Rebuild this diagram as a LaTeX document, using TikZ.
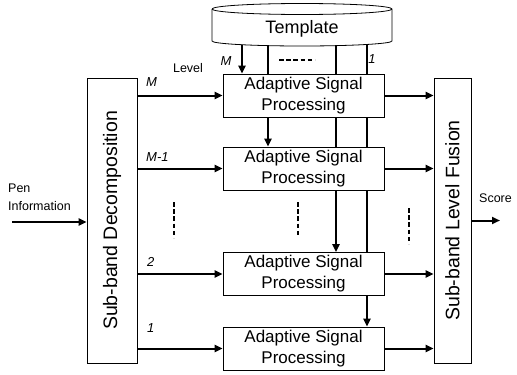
\documentclass[tikz,border=0pt]{standalone}
\usepackage{fontspec}
\setmainfont{Liberation Sans}
\usetikzlibrary{shapes.geometric,arrows.meta,backgrounds,positioning}
\tikzset{block/.style={draw, fill=white, line width=0.8pt, align=center, inner sep=2pt},
    aspbox/.style={block, minimum width=161pt, minimum height=43pt, font=\fontsize{17}{21}\selectfont},
    tallbox/.style={block, rotate=90, minimum width=285pt, font=\fontsize{19.5}{22}\selectfont},
    link/.style={line width=2pt, -{Triangle[length=8pt,width=7pt]}},
    dots/.style={line width=2.2pt, dash pattern=on 4.5pt off 2.7pt},
    lbl/.style={font=\fontsize{12.5}{18}\selectfont, inner sep=0pt, align=left},
    lvl/.style={font=\fontsize{13}{15}\selectfont\itshape, inner sep=0pt}}

\begin{document}
\begin{tikzpicture}[x=1pt, y=-1pt]
    \useasboundingbox (0,0) rectangle (517,375);
    % template store
    \draw[fill=white, line width=0.8pt] (212,9) -- (212,41)
        arc[start angle=180, end angle=360, x radius=90pt, y radius=5pt] -- (392,9)
        arc[start angle=0, end angle=180, x radius=90pt, y radius=5.5pt];
    \draw[line width=0.8pt] (212,9) arc[start angle=180, end angle=360, x radius=90pt, y radius=5.5pt];
    \node[font=\fontsize{18}{20}\selectfont, inner sep=0pt] (tmpl) at (302,29) {Template};
    % main blocks
    \node[tallbox, minimum height=50pt] (decomp) at (112,220.5) {Sub-band Decomposition};
    \node[tallbox, minimum height=37pt] (fusion) at (452.5,220.5) {Sub-band Level Fusion};
    \node[aspbox] (asp1) at (303.5,95.5) {Adaptive Signal\\Processing};
    \node[aspbox] (asp2) at (303.5,168.5) {Adaptive Signal\\Processing};
    \node[aspbox] (asp3) at (303.5,274) {Adaptive Signal\\Processing};
    \node[aspbox] (asp4) at (303.5,348.5) {Adaptive Signal\\Processing};
    % template lines, hidden behind the blocks
    \coordinate (lvM) at (242,0);
    \coordinate (lvMa) at (268,0);
    \coordinate (lvB) at (336,0);
    \coordinate (lvA) at (367,0);
    \begin{scope}[on background layer]
        \draw[link] (lvM |- tmpl.center) -- (lvM |- asp1.north);
        \draw[link] (lvMa |- tmpl.center) -- (lvMa |- asp2.north);
        \draw[link] (lvB |- tmpl.center) -- (lvB |- asp3.north);
        \draw[link] (lvA |- tmpl.center) -- (lvA |- asp4.north);
    \end{scope}
    % signal flow (rotated boxes: north is the left side)
    \coordinate (pen) at (12,222);
    \coordinate (out) at (500,220.5);
    \draw[link] (pen) -- (pen -| decomp.north);
    \foreach \i in {1,...,4} {
        \draw[link] (asp\i.west -| decomp.south) -- (asp\i.west);
        \draw[link] (asp\i.east) -- (asp\i.east -| fusion.north);
    }
    \draw[link] (fusion.south) -- (out);
    % dots
    \draw[dots] (279,60) -- (315,60);
    \draw[dots] (174,202) -- (174,238);
    \draw[dots] (298,202) -- (298,237);
    \draw[dots] (409,208) -- (409,244);
    % labels
    \node[lbl, anchor=south west] (pentxt) at (8,211) {Pen\\Information};
    \node[lbl, anchor=west] (score) at (479,198) {Score};
    \node[lbl] (level) at (188,68) {Level};
    \node[lvl] (topM) at (226,61) {M};
    \node[lvl] (topA) at (372,59) {1};
    \node[lvl, anchor=west] (labM) at (146,82) {M};
    \node[lvl, anchor=west] (labMa) at (146,157) {M-1};
    \node[lvl, anchor=west] (labB) at (147,262) {2};
    \node[lvl, anchor=west] (labA) at (147,328) {1};
\end{tikzpicture}
\end{document}
